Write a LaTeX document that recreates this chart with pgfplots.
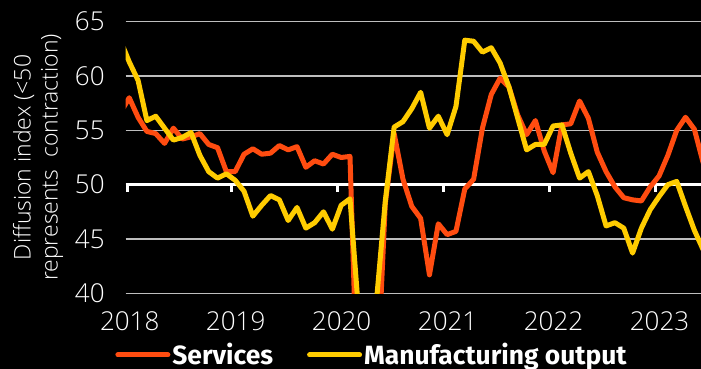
\documentclass[border=0pt]{standalone}
\usepackage{fontspec}
\setmainfont{Open Sans Light}
\newfontfamily\legfont{Fira Sans}
\usepackage{pgfplots}
\pgfplotsset{compat=1.18}
\definecolor{svc}{RGB}{255,76,16}
\definecolor{mfg}{RGB}{255,204,0}
\definecolor{gridc}{RGB}{190,190,190}
\begin{document}
\begin{tikzpicture}
\path[use as bounding box, fill=black] (-62.85pt,-37.85pt) rectangle (287.65pt,146.65pt);
\begin{axis}[
  at={(0pt,0pt)}, anchor=south west,
  scale only axis, width=287.65pt, height=135.8pt,
  xmin=0, xmax=65.15, ymin=40, ymax=65,
  xtick={0,12,24,36,48,60},
  xticklabels={2018,2019,2020,2021,2022,2023},
  ytick={40,45,50,55,60,65},
  axis line style={draw=none},
  major tick length=0pt,
  ymajorgrids, grid style={color=gridc, line width=0.75pt},
  /pgf/number format/assume math mode=true,
  tick label style={text=white, font=\fontsize{13}{15}\selectfont},
  x tick label style={yshift=-5.5pt, xshift=2pt},
  y tick label style={xshift=-7pt},
  ylabel={Diffusion index (<50\\represents\ \ contraction)},
  ylabel style={at={(rel axis cs:-0.1524,0.5)}, anchor=center, align=center, text=white,
    font=\fontsize{11.5}{13.5}\selectfont},
  clip mode=individual,
  legend columns=2,
  legend style={at={(rel axis cs:0,0)}, anchor=west, xshift=-5.35pt, yshift=-30.85pt,
    draw=none, fill=none, inner sep=0pt, text=white,
    font=\legfont\bfseries\fontsize{13.2}{15}\selectfont,
    nodes={inner sep=1pt},
    /tikz/every even column/.append style={column sep=16pt}},
  legend cell align=left,
  legend image code/.code={\draw[#1, line width=2.5pt, line cap=round] (1.25pt,0pt) -- (26.25pt,0pt);},
]
\addplot[white, line width=1.7pt, forget plot] coordinates {(0,50) (65.15,50)};
\draw[white, line width=1.6pt] (axis cs:0,50) ++(0.8pt,0pt) -- ++(0pt,-3.6pt);
\draw[white, line width=1.6pt] (axis cs:12,50) -- ++(0pt,-3.6pt);
\draw[white, line width=1.6pt] (axis cs:24,50) -- ++(0pt,-3.6pt);
\draw[white, line width=1.6pt] (axis cs:36,50) -- ++(0pt,-3.6pt);
\draw[white, line width=1.6pt] (axis cs:48,50) -- ++(0pt,-3.6pt);
\draw[white, line width=1.6pt] (axis cs:60,50) -- ++(0pt,-3.6pt);
\addplot[svc, line width=2.5pt, line join=round, x filter/.expression={x+0.4}] coordinates {
(-1,56.6) (0,58.0) (1,56.2) (2,54.9) (3,54.7) (4,53.8) (5,55.2) (6,54.2) (7,54.4) (8,54.7) (9,53.7) (10,53.4) (11,51.2)
(12,51.2) (13,52.8) (14,53.3) (15,52.8) (16,52.9) (17,53.6) (18,53.2) (19,53.5) (20,51.6) (21,52.2) (22,51.9) (23,52.8)
(24,52.5) (25,52.6) (26,26.4) (27,12.0) (28,30.5) (29,48.3) (30,54.7) (31,50.5) (32,48.0) (33,46.9) (34,41.7) (35,46.4)
(36,45.4) (37,45.7) (38,49.6) (39,50.5) (40,55.2) (41,58.3) (42,59.8) (43,59.0) (44,56.4) (45,54.6) (46,55.9) (47,53.1)
(48,51.1) (49,55.5) (50,55.6) (51,57.7) (52,56.1) (53,53.0) (54,51.2) (55,49.8) (56,48.8) (57,48.6) (58,48.5) (59,49.8)
(60,50.8) (61,52.7) (62,55.0) (63,56.2) (64,55.1) (65,52.0)
};
\addlegendentry{Services}
\addplot[mfg, line width=2.5pt, line join=round, x filter/.expression={x+0.4}] coordinates {
(-1,63.3) (0,61.3) (1,59.6) (2,55.9) (3,56.3) (4,55.2) (5,54.1) (6,54.35) (7,54.8) (8,52.7) (9,51.2) (10,50.6) (11,51.0)
(12,50.4) (13,49.4) (14,47.1) (15,48.1) (16,49.0) (17,48.6) (18,46.7) (19,47.9) (20,46.0) (21,46.5) (22,47.5) (23,45.9)
(24,48.1) (25,48.7) (26,38.0) (27,18.0) (28,39.3) (29,48.5) (30,55.3) (31,55.8) (32,57.0) (33,58.5) (34,55.2) (35,56.3)
(36,54.6) (37,57.2) (38,63.3) (39,63.2) (40,62.2) (41,62.6) (42,61.2) (43,59.0) (44,56.1) (45,53.2) (46,53.7) (47,53.7)
(48,55.4) (49,55.5) (50,52.9) (51,50.6) (52,51.2) (53,49.0) (54,46.2) (55,46.5) (56,46.0) (57,43.7) (58,46.0) (59,47.7)
(60,48.9) (61,50.0) (62,50.3) (63,48.0) (64,45.8) (65,44.0)
};
\addlegendentry{Manufacturing output}
\end{axis}
\end{tikzpicture}
\end{document}
